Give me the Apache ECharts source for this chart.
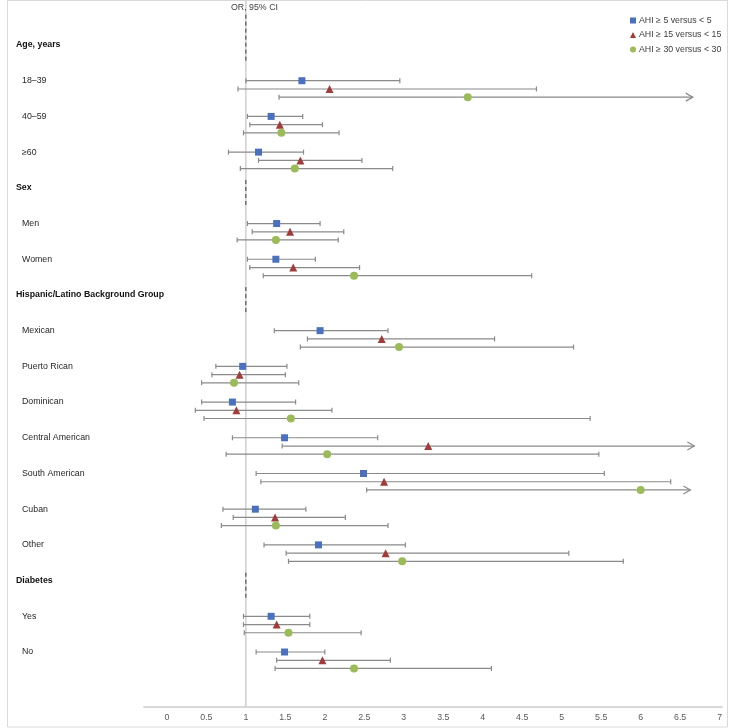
<!DOCTYPE html>
<html>
<head>
<meta charset="utf-8">
<script src="https://cdn.jsdelivr.net/npm/echarts@6/dist/echarts.min.js"></script>
<style>
html,body{margin:0;padding:0;background:#fff;}
#chart{width:729px;height:728px;}
</style>
</head>
<body>
<div id="chart"></div>
<script>
// ---- Data ----
const rowLabels = ['Age, years','18–39','40–59','≥60','Sex','Men','Women','Hispanic/Latino Background Group','Mexican','Puerto Rican','Dominican','Central American','South American','Cuban','Other','Diabetes','Yes','No'];
const headerRows = [0, 4, 7, 15];
const subgroupRows = [1, 2, 3, 5, 6, 8, 9, 10, 11, 12, 13, 14, 16, 17];
const seriesNames = ['AHI ≥ 5 versus < 5', 'AHI ≥ 15 versus < 15', 'AHI ≥ 30 versus < 30'];

const ahi5_or = [1.71, 1.32, 1.16, 1.39, 1.38, 1.94, 0.96, 0.83, 1.49, 2.49, 1.12, 1.92, 1.32, 1.49];
const ahi5_lo = [1.00, 1.02, 0.78, 1.02, 1.02, 1.36, 0.62, 0.44, 0.83, 1.13, 0.71, 1.23, 0.97, 1.13];
const ahi5_hi = [2.95, 1.72, 1.73, 1.94, 1.88, 2.80, 1.52, 1.63, 2.67, 5.54, 1.76, 3.02, 1.81, 2.00];
const ahi5_trunc = [0, 0, 0, 0, 0, 0, 0, 0, 0, 0, 0, 0, 0, 0];

const ahi15_or = [2.06, 1.43, 1.69, 1.56, 1.60, 2.72, 0.92, 0.88, 3.31, 2.75, 1.37, 2.77, 1.39, 1.97];
const ahi15_lo = [0.90, 1.05, 1.16, 1.08, 1.05, 1.78, 0.57, 0.36, 1.46, 1.19, 0.84, 1.51, 0.97, 1.39];
const ahi15_hi = [4.68, 1.97, 2.47, 2.24, 2.44, 4.15, 1.50, 2.09, 6.68, 6.38, 2.26, 5.09, 1.81, 2.83];
const ahi15_trunc = [0, 0, 0, 0, 0, 0, 0, 0, 1, 0, 0, 0, 0, 0];

const ahi30_or = [3.81, 1.45, 1.62, 1.38, 2.37, 2.94, 0.85, 1.57, 2.03, 6.00, 1.38, 2.98, 1.54, 2.37];
const ahi30_lo = [1.42, 0.97, 0.93, 0.89, 1.22, 1.69, 0.44, 0.47, 0.75, 2.53, 0.69, 1.54, 0.98, 1.37];
const ahi30_hi = [6.66, 2.18, 2.86, 2.17, 4.62, 5.15, 1.67, 5.36, 5.47, 6.63, 2.80, 5.78, 2.46, 4.11];
const ahi30_trunc = [1, 0, 0, 0, 0, 0, 0, 0, 0, 1, 0, 0, 0, 0];

const xTickLabels = [0, 0.5, 1, 1.5, 2, 2.5, 3, 3.5, 4, 4.5, 5, 5.5, 6, 6.5, 7];
const referenceOR = 1;

// ---- Build ----
const FONT = '"Liberation Sans", Arial, sans-serif';
const rowOffset = [0, 0.232, 0.46];
const colors = ['#4a70be', '#a03c3a', '#9bbb59'];
const symbols = ['rect', 'triangle', 'circle'];
const symbolSizes = [7, 8, 8];
const groups = [
  {or: ahi5_or, lo: ahi5_lo, hi: ahi5_hi, tr: ahi5_trunc},
  {or: ahi15_or, lo: ahi15_lo, hi: ahi15_hi, tr: ahi15_trunc},
  {or: ahi30_or, lo: ahi30_lo, hi: ahi30_hi, tr: ahi30_trunc}
];
const Y_MIN = -1, Y_MAX = 18.54, Y_TOP_EXT = -1.26;

function errRender(params, api) {
  const lo = api.value(0), hi = api.value(1), y = api.value(2), tr = api.value(3);
  const a = api.coord([lo, y]), b = api.coord([hi, y]);
  const style = {stroke: '#8a8a8a', lineWidth: 1.2, fill: null};
  const ch = [
    {type: 'line', shape: {x1: a[0], y1: a[1], x2: b[0], y2: b[1]}, style: style},
    {type: 'line', shape: {x1: a[0], y1: a[1] - 2.5, x2: a[0], y2: a[1] + 2.5}, style: style}
  ];
  if (tr) {
    ch.push({type: 'polyline', shape: {points: [[b[0] - 7, b[1] - 4], [b[0], b[1]], [b[0] - 7, b[1] + 4]]}, style: style});
  } else {
    ch.push({type: 'line', shape: {x1: b[0], y1: b[1] - 2.5, x2: b[0], y2: b[1] + 2.5}, style: style});
  }
  return {type: 'group', children: ch};
}

const series = [];
// reference line at OR = 1
series.push({
  type: 'custom', silent: true, clip: false, z: 1,
  data: [[referenceOR, Y_TOP_EXT, Y_MAX]],
  renderItem: function (params, api) {
    const a = api.coord([api.value(0), api.value(1)]);
    const b = api.coord([api.value(0), api.value(2)]);
    return {type: 'line', shape: {x1: a[0], y1: a[1], x2: b[0], y2: b[1]}, style: {stroke: '#cfcfcf', lineWidth: 1.5}};
  }
});
// dashed segments at header rows
series.push({
  type: 'custom', silent: true, clip: false, z: 2,
  data: headerRows.map(function (r, i) { return [referenceOR, r + (i === 0 ? -0.85 : -0.22), r + 0.5]; }),
  renderItem: function (params, api) {
    const a = api.coord([api.value(0), api.value(1)]);
    const b = api.coord([api.value(0), api.value(2)]);
    return {type: 'line', shape: {x1: a[0], y1: a[1], x2: b[0], y2: b[1]}, style: {stroke: '#3a3a3a', lineWidth: 1, lineDash: [4, 3]}};
  }
});
groups.forEach(function (g, k) {
  series.push({
    type: 'custom', silent: true, z: 3,
    data: g.or.map(function (_, i) { return [g.lo[i], g.hi[i], subgroupRows[i] + rowOffset[k], g.tr[i]]; }),
    renderItem: errRender
  });
});
groups.forEach(function (g, k) {
  series.push({
    name: seriesNames[k], type: 'scatter', z: 5,
    symbol: symbols[k], symbolSize: symbolSizes[k],
    itemStyle: {color: colors[k], opacity: 1},
    data: g.or.map(function (v, i) { return [v, subgroupRows[i] + rowOffset[k]]; })
  });
});

const chart = echarts.init(document.getElementById('chart'), null, {renderer: 'canvas'});
chart.setOption({
  animation: false,
  backgroundColor: '#fff',
  textStyle: {fontFamily: FONT},
  title: {
    text: 'OR, 95% CI', left: 231, top: 3, padding: 0,
    textStyle: {fontSize: 8.8, fontWeight: 'normal', color: '#404040', fontFamily: FONT}
  },
  legend: {
    data: seriesNames.map(function (n, k) { return {name: n, icon: symbols[k]}; }),
    orient: 'vertical', left: 630, top: 16, padding: 0,
    itemWidth: 6, itemHeight: 6, itemGap: 5.5,
    textStyle: {fontSize: 8.8, color: '#404040', fontFamily: FONT, padding: [0, 0, 0, -2]}
  },
  graphic: [{
    type: 'rect', silent: true, z: -1,
    shape: {x: 7.5, y: 0.5, width: 720, height: 726.5},
    style: {fill: null, stroke: '#d9d9d9', lineWidth: 1}
  }],
  grid: {left: 144, right: 7, top: 9.3, bottom: 21, containLabel: false},
  xAxis: {
    type: 'value', min: -0.29, max: 7.03,
    axisLine: {show: true, onZero: false, lineStyle: {color: '#d9d9d9', width: 2}},
    axisTick: {show: false},
    splitLine: {show: false},
    axisLabel: {
      customValues: xTickLabels, margin: 6,
      fontSize: 8.8, color: '#595959', fontFamily: FONT,
      formatter: function (v) { return String(v); }
    }
  },
  yAxis: {
    type: 'value', inverse: true, min: Y_MIN, max: Y_MAX, interval: 1,
    axisLine: {show: false, onZero: false}, axisTick: {show: false}, splitLine: {show: false},
    axisLabel: {
      align: 'left', margin: 128, showMinLabel: true, showMaxLabel: false,
      formatter: function (v) {
        if (!Number.isInteger(v) || v < 0 || v >= rowLabels.length) return '';
        return headerRows.indexOf(v) >= 0 ? '{h|' + rowLabels[v] + '}' : '{s|' + rowLabels[v] + '}';
      },
      rich: {
        h: {fontSize: 8.8, fontWeight: 'bold', color: '#111', fontFamily: FONT},
        s: {fontSize: 8.8, color: '#262626', fontFamily: FONT, padding: [0, 0, 0, 6]}
      }
    }
  },
  series: series
});
</script>
</body>
</html>
